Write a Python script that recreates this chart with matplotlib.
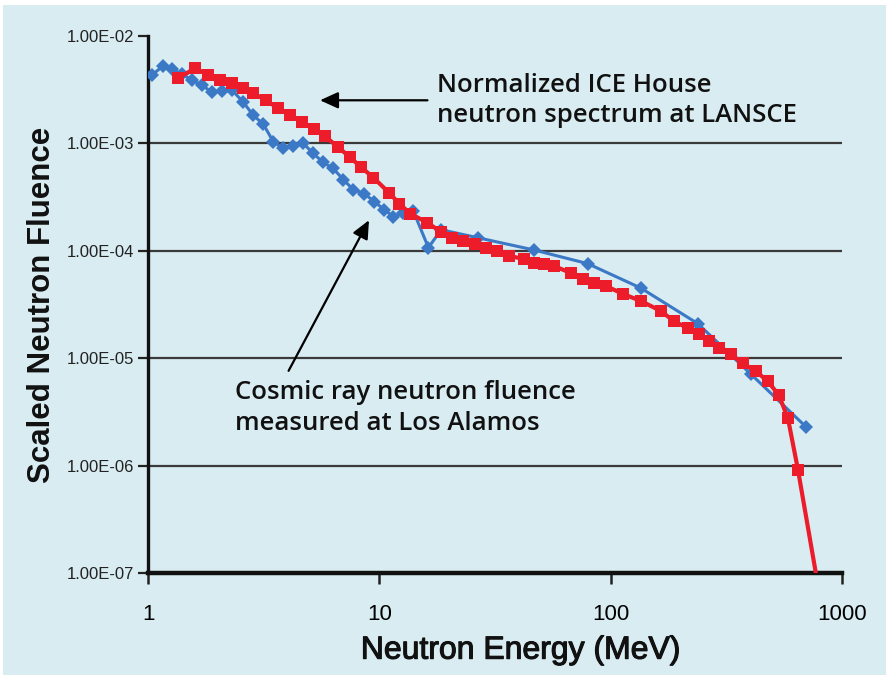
import matplotlib
matplotlib.use("Agg")
from matplotlib import pyplot as plt
from matplotlib.patches import Rectangle
import matplotlib.patheffects as pe
import numpy as np

# Cosmic ray neutron fluence measured at Los Alamos (blue diamonds)
la_energy = [1.04, 1.16, 1.27, 1.40, 1.55, 1.71, 1.89, 2.09, 2.31, 2.58,
             2.85, 3.15, 3.48, 3.84, 4.24, 4.69, 5.18, 5.72, 6.32, 6.98,
             7.71, 8.61, 9.51, 10.5, 11.5, 12.7, 14.0, 16.3, 18.5, 26.8,
             46.4, 79.5, 135, 238, 404, 698]
la_fluence = [4.33e-3, 5.25e-3, 4.92e-3, 4.42e-3, 3.88e-3, 3.48e-3, 3.0e-3, 3.06e-3, 3.13e-3, 2.42e-3,
              1.83e-3, 1.51e-3, 1.04e-3, 8.98e-4, 9.38e-4, 1.0e-3, 8.07e-4, 6.64e-4, 5.84e-4, 4.61e-4,
              3.72e-4, 3.41e-4, 2.87e-4, 2.42e-4, 2.08e-4, 2.27e-4, 2.37e-4, 1.07e-4, 1.57e-4, 1.32e-4,
              1.02e-4, 7.6e-5, 4.5e-5, 2.1e-5, 7.1e-6, 2.3e-6]

# Normalized ICE House spectrum at LANSCE (red squares)
ice_energy = [1.35, 1.60, 1.82, 2.05, 2.31, 2.58, 2.85, 3.24, 3.65, 4.12,
              4.64, 5.23, 5.84, 6.65, 7.49, 8.36, 9.42, 11.0, 12.2, 13.6,
              16.1, 18.4, 20.7, 23.1, 26.0, 28.8, 32.4, 36.2, 42.0, 46.4,
              51.3, 56.7, 67.1, 75.6, 84.4, 95.1, 113, 135, 165, 187,
              215, 240, 266, 294, 331, 372, 424, 478, 534, 584,
              645, 794]
ice_fluence = [4.04e-3, 5.03e-3, 4.32e-3, 3.88e-3, 3.64e-3, 3.27e-3, 2.93e-3, 2.52e-3, 2.12e-3, 1.83e-3,
               1.57e-3, 1.35e-3, 1.16e-3, 9.18e-4, 7.40e-4, 5.97e-4, 4.81e-4, 3.48e-4, 2.75e-4, 2.22e-4,
               1.83e-4, 1.51e-4, 1.32e-4, 1.24e-4, 1.16e-4, 1.07e-4, 1.0e-4, 8.98e-5, 8.41e-5, 7.73e-5,
               7.56e-5, 7.24e-5, 6.23e-5, 5.47e-5, 5.02e-5, 4.71e-5, 3.97e-5, 3.41e-5, 2.75e-5, 2.22e-5,
               1.91e-5, 1.67e-5, 1.44e-5, 1.24e-5, 1.09e-5, 8.97e-6, 7.57e-6, 6.10e-6, 4.51e-6, 2.75e-6,
               9.18e-7, 6.9e-8]

y_ticks = [1e-7, 1e-6, 1e-5, 1e-4, 1e-3, 1e-2]
y_ticklabels = ["1.00E-07", "1.00E-06", "1.00E-05", "1.00E-04", "1.00E-03", "1.00E-02"]
x_ticks = [1, 10, 100, 1000]
x_ticklabels = ["1", "10", "100", "1000"]

sans = ["Liberation Sans", "DejaVu Sans"]
medium = ["Open Sans", "Liberation Sans", "DejaVu Sans"]
heavier = [pe.withStroke(linewidth=0.8, foreground="#111111")]

fig = plt.figure(figsize=(8.87, 6.75), dpi=100, facecolor="white")
# light blue panel behind everything
fig.patches.append(Rectangle((3 / 887, 0), 1, 1 - 5 / 675, transform=fig.transFigure,
                             facecolor="#d8ecf1", edgecolor="none", zorder=-10))

ax = fig.add_axes([148 / 887, 1 - 573 / 675, 694 / 887, 537 / 675])
ax.set_facecolor("none")
ax.set_xscale("log")
ax.set_yscale("log")
ax.set_xlim(1, 1000)
ax.set_ylim(1e-7, 1e-2)

# horizontal grid lines (not at top)
for yv in y_ticks[1:-1]:
    ax.axhline(yv, color="#3a3a3a", lw=1.6, zorder=1)

ax.plot(la_energy, la_fluence, color="#3b78c6", lw=2.2, marker="D", ms=7.5,
        markeredgewidth=0, zorder=3)
ax.plot(ice_energy, ice_fluence, color="#ec1c2a", lw=3.0, marker="s", ms=8.5,
        markeredgewidth=0, zorder=4)

ax.set_xticks(x_ticks)
ax.set_xticklabels(x_ticklabels, family=sans, fontsize=16)
ax.set_yticks(y_ticks)
ax.set_yticklabels(y_ticklabels, family=sans, fontsize=12, color="#222222")
ax.xaxis.set_minor_locator(matplotlib.ticker.NullLocator())
ax.yaxis.set_minor_locator(matplotlib.ticker.NullLocator())
ax.tick_params(axis="x", direction="out", length=8, width=1.8, pad=14, color="#222222")
ax.tick_params(axis="y", direction="out", length=7, width=1.6, pad=3, color="#222222")

for side in ["top", "right"]:
    ax.spines[side].set_visible(False)
ax.spines["left"].set_linewidth(2.4)
ax.spines["bottom"].set_linewidth(3.2)
ax.spines["left"].set_color("#111111")
ax.spines["bottom"].set_color("#111111")

ax.set_xlabel("Neutron Energy (MeV)", family=sans, fontsize=23, labelpad=8,
              x=0.5375, color="#111111", path_effects=heavier)
ax.set_ylabel("Scaled Neutron Fluence", family=sans, fontsize=22.5, fontweight="bold",
              labelpad=7, color="#111111")

# annotations
ax.text(0.416, 0.932, "Normalized ICE House\nneutron spectrum at LANSCE", transform=ax.transAxes,
        family=medium, fontsize=18.5, fontweight="semibold", va="top", ha="left",
        linespacing=1.3, color="#111111")
ax.annotate("", xy=(5.39, 2.52e-3), xytext=(16.6, 2.52e-3),
            arrowprops=dict(arrowstyle="-|>,head_length=1.1,head_width=0.5", color="black", lw=1.6))

ax.text(0.125, 0.359, "Cosmic ray neutron fluence\nmeasured at Los Alamos", transform=ax.transAxes,
        family=medium, fontsize=18.5, fontweight="semibold", va="top", ha="left",
        linespacing=1.3, color="#111111")
ax.annotate("", xy=(9.14, 2.03e-4), xytext=(4.0, 7.24e-6),
            arrowprops=dict(arrowstyle="-|>,head_length=1.1,head_width=0.5", color="black", lw=1.6))

fig.savefig("out.png", dpi=100)
